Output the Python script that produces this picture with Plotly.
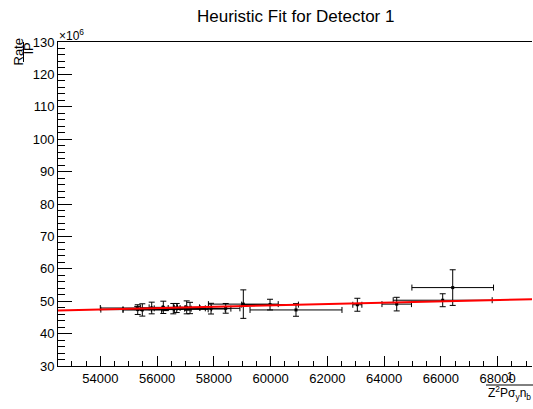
import plotly.graph_objects as go

# ---- data ----
x_vals = [55318, 55480, 55811, 56220, 56572, 56692, 57044, 57161, 57901, 58419,
          59039, 59980, 60895, 63057, 64444, 66064, 66417,
          55300, 56300, 56800, 57100]
x_errs = [1300, 680, 400, 500, 400, 300, 450, 350, 700, 500,
          1230, 1000, 1620, 160, 520, 1744, 1438,
          1300, 1500, 900, 1300]
y_vals = [47.4, 47.3, 47.9, 48.1, 47.7, 47.9, 48.1, 47.9, 47.7, 47.8,
          49.1, 48.95, 47.3, 48.9, 49.1, 50.3, 54.2,
          47.9, 47.5, 47.8, 47.6]
y_errs = [1.5, 1.9, 1.8, 1.9, 1.6, 1.4, 2.0, 1.75, 1.65, 1.5,
          4.4, 1.65, 1.95, 2.0, 2.1, 2.0, 5.5,
          0.5, 0.4, 0.3, 0.3]

fit_p0 = 47.15      # value at x range start
fit_p1 = 2.066e-4   # slope per unit x

x_range = [52509, 69211]
y_range = [30, 130]

title_text = "Heuristic Fit for Detector 1"

W, H = 533, 409
ML, MR, MT, MB = 58, 1, 42, 43
PW = W - ML - MR
PH = H - MT - MB

def px(xp):
    return (xp - ML) / PW

def py(yp):
    return (H - MB - yp) / PH

FONT = "Liberation Sans, Arial, sans-serif"

fig = go.Figure()

fig.add_trace(go.Scatter(
    x=x_vals, y=y_vals, mode="markers",
    marker=dict(symbol="square", size=3, color="black"),
    error_x=dict(type="data", array=x_errs, color="black", thickness=1, width=3),
    error_y=dict(type="data", array=y_errs, color="black", thickness=1, width=3),
    showlegend=False, hoverinfo="skip",
))

fit_x = x_range
fit_y = [fit_p0 + fit_p1 * (xx - x_range[0]) for xx in fit_x]
fig.add_trace(go.Scatter(
    x=fit_x, y=fit_y, mode="lines",
    line=dict(color="#ff0000", width=2),
    showlegend=False, hoverinfo="skip",
))

fig.update_layout(
    width=W, height=H,
    margin=dict(l=ML, r=MR, t=MT, b=MB),
    paper_bgcolor="white", plot_bgcolor="white",
    font=dict(family=FONT, size=13, color="black"),
    xaxis=dict(
        range=x_range, showgrid=False, zeroline=False,
        showline=True, linecolor="black", linewidth=1, mirror=True,
        ticks="inside", ticklen=10, tickcolor="black", tickwidth=1,
        dtick=2000, tick0=0, tickformat="d",
        tickfont=dict(size=13, family=FONT),
        minor=dict(dtick=500, ticks="inside", ticklen=5, tickcolor="black", tickwidth=1),
    ),
    yaxis=dict(
        range=y_range, showgrid=False, zeroline=False,
        showline=True, linecolor="black", linewidth=1,
        ticks="inside", ticklen=14, tickcolor="black", tickwidth=1,
        dtick=10, tick0=0,
        tickfont=dict(size=13, family=FONT),
        minor=dict(dtick=2, ticks="inside", ticklen=7, tickcolor="black", tickwidth=1),
    ),
)

ann = []
# title
ann.append(dict(text=title_text, x=px(295.5), y=py(16), xref="paper", yref="paper",
                xanchor="center", yanchor="middle", showarrow=False,
                font=dict(size=17, family=FONT)))
# exponent
ann.append(dict(text="×10<sup>6</sup>", x=px(57), y=py(35), xref="paper", yref="paper",
                xanchor="left", yanchor="middle", showarrow=False,
                font=dict(size=12, family=FONT)))
# y title fraction
ann.append(dict(text="Rate", x=px(17.5), y=py(52), xref="paper", yref="paper",
                xanchor="center", yanchor="middle", showarrow=False, textangle=-90,
                font=dict(size=13, family=FONT)))
ann.append(dict(text="IP", x=px(28.5), y=py(49), xref="paper", yref="paper",
                xanchor="center", yanchor="middle", showarrow=False, textangle=-90,
                font=dict(size=13, family=FONT)))
# x title fraction
ann.append(dict(text="1", x=px(510), y=py(376), xref="paper", yref="paper",
                xanchor="center", yanchor="middle", showarrow=False,
                font=dict(size=11, family=FONT)))
ann.append(dict(text="Z<sup>2</sup>Pσ<sub>y</sub>n<sub>b</sub>", x=px(486), y=py(393),
                xref="paper", yref="paper",
                xanchor="left", yanchor="middle", showarrow=False,
                font=dict(size=12, family=FONT)))
fig.update_layout(annotations=ann)

fig.add_shape(type="line", xref="paper", yref="paper",
              x0=px(23.5), x1=px(23.5), y0=py(42), y1=py(62),
              line=dict(color="black", width=1))
fig.add_shape(type="line", xref="paper", yref="paper",
              x0=px(486), x1=px(533), y0=py(385), y1=py(385),
              line=dict(color="black", width=1))

fig.write_html("out.html")
